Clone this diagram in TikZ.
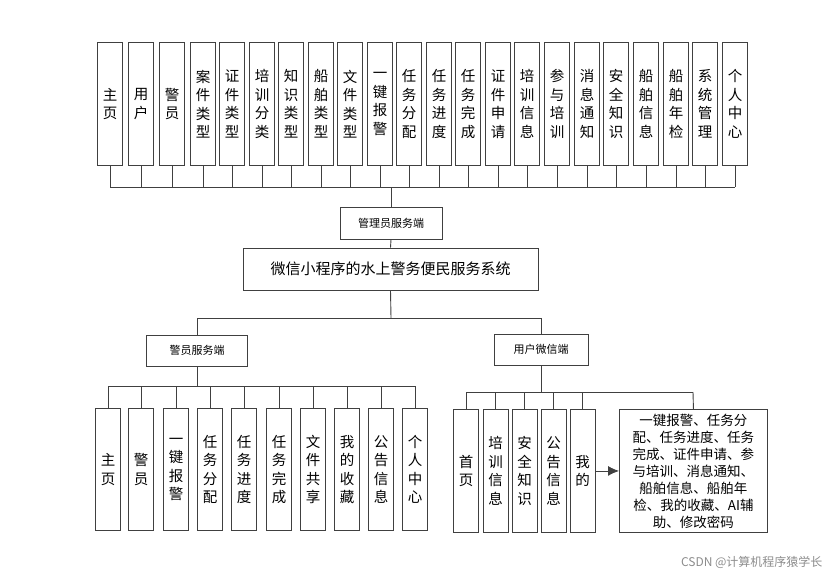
\documentclass[tikz,border=0pt]{standalone}
\usepackage{fontspec}
\usetikzlibrary{arrows.meta}
\setmainfont{Noto Sans CJK SC}
\XeTeXlinebreaklocale "zh"
\XeTeXlinebreakskip=0pt plus 1pt
\begin{document}
\begin{tikzpicture}[x=1pt,y=-1pt,
  vbox/.style={draw=black!75,line width=0.9pt,minimum width=25pt,minimum height=123pt,anchor=north,inner sep=0pt,
    text width=15pt,align=center,font=\fontsize{14.5}{18.5}\selectfont},
  hbox/.style={draw=black!75,line width=0.9pt,inner sep=0pt,font=\fontsize{11}{13}\selectfont},
  ln/.style={black!75,line width=0.9pt}]
\useasboundingbox (0,0) rectangle (838,579);
% top row
\foreach \x/\t [count=\i] in {110/主页,141/用户,172/警员,203/案件类型,232/证件类型,262/培训分类,291/知识类型,321/船舶类型,350/文件类型,380/一键报警,409/任务分配,439/任务进度,468/任务完成,498/证件申请,527/培训信息,557/参与培训,587/消息通知,616/安全知识,646/船舶信息,676/船舶年检,705/系统管理,735/个人中心}{
  \node[vbox] (t\i) at (\x,42) {\t};
  \draw[ln] (t\i.south) -- (\x,187);
}
\draw[ln] (110,187) -- (735,187);
\node[hbox,minimum width=102pt,minimum height=32pt] (adm) at (391,223) {管理员服务端};
\draw[ln] (391,187) -- (adm.north);
\node[hbox,minimum width=295pt,minimum height=42pt,font=\fontsize{15}{18}\selectfont] (main) at (390.5,269) {微信小程序的水上警务便民服务系统};
\draw[ln] (adm.south) -- (main.north);
\node[hbox,minimum width=101pt,minimum height=31pt] (pol) at (197,350.5) {警员服务端};
\node[hbox,minimum width=94pt,minimum height=31pt] (usr) at (541,349.5) {用户微信端};
\draw[ln] (main.south) -- (391,318);
\draw[ln] (197,318) -- (541,318);
\draw[ln] (197,318) -- (pol.north);
\draw[ln] (541,318) -- (usr.north);
% police
\foreach \x/\t [count=\i] in {108/主页,141/警员,176/一键报警,210/任务分配,244/任务进度,279/任务完成,313/文件共享,347/我的收藏,381/公告信息,415/个人中心}{
  \node[vbox,minimum height=122pt] (p\i) at (\x,408) {\t};
  \draw[ln] (p\i.north) -- (\x,386);
}
\draw[ln] (108,386) -- (415,386);
\draw[ln] (pol.south) -- (197,386);
% user
\foreach \x/\t [count=\i] in {466/首页,495.5/培训信息,524.5/安全知识,553.5/公告信息,582.5/我的}{
  \node[vbox,minimum height=123pt] (u\i) at (\x,409) {\t};
  \draw[ln] (u\i.north) -- (\x,392);
}
\node[draw=black!75,line width=0.9pt,anchor=north west,minimum width=148pt,minimum height=123pt,inner sep=0pt,
  align=center,font=\fontsize{13.5}{17}\selectfont] (big) at (619,409)
  {一键报警、任务分\\配、任务进度、任务\\完成、证件申请、参\\与培训、消息通知、\\船舶信息、船舶年\\检、我的收藏、AI辅\\助、修改密码};
\draw[ln] (693,392) -- (big.north);
\draw[ln] (466,392) -- (693,392);
\draw[ln] (usr.south) -- (541,392);
\draw[ln,-{Latex[length=11pt,width=10pt]}] (u5.east) -- (big.west |- u5.east);
\node[text=black!45,font=\fontsize{12}{14}\selectfont,anchor=east] (wm) at (826,562) {CSDN @计算机程序猿学长};
\end{tikzpicture}
\end{document}
